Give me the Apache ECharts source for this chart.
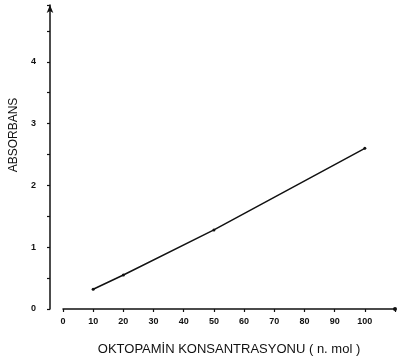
<!DOCTYPE html>
<html>
<head>
<meta charset="utf-8">
<script src="https://cdn.jsdelivr.net/npm/echarts@6/dist/echarts.min.js"></script>
<style>
  html, body { margin: 0; padding: 0; background: #fff; }
  #chart { width: 398px; height: 362px; }
</style>
</head>
<body>
<div id="chart"></div>
<script>
// values
let concentrations = [10, 20, 50, 100]
let absorbance = [0.32, 0.55, 1.28, 2.6]
let xTickLabels = [0, 10, 20, 30, 40, 50, 60, 70, 80, 90, 100]
let yTickLabels = [0, 1, 2, 3, 4]

let font = '"Liberation Sans", Arial, sans-serif'
let ink = '#111'

let chart = echarts.init(document.getElementById('chart'))
chart.setOption({
  animation: false,
  grid: { left: 63, right: 1, top: 5, bottom: 53 },
  xAxis: {
    type: 'value',
    min: 0,
    max: 110,
    interval: 10,
    name: 'OKTOPAMİN KONSANTRASYONU ( n. mol )',
    nameLocation: 'middle',
    nameGap: 34,
    nameTextStyle: { fontFamily: font, fontSize: 13, color: ink },
    axisLine: {
      onZero: false,
      lineStyle: { color: ink, width: 1.5 },
      symbol: ['none', 'circle'],
      symbolSize: [4, 4]
    },
    axisTick: { length: 3, lineStyle: { color: ink, width: 1.2 } },
    axisLabel: {
      margin: 8,
      fontFamily: font,
      fontSize: 9,
      fontWeight: 'bold',
      color: ink,
      formatter: v => xTickLabels.includes(v) ? String(v) : ''
    },
    splitLine: { show: false }
  },
  yAxis: {
    type: 'value',
    min: 0,
    max: 4.92,
    interval: 0.5,
    offset: 13,
    name: 'ABSORBANS',
    nameLocation: 'middle',
    nameGap: 20,
    nameRotate: 90,
    nameTextStyle: { fontFamily: font, fontSize: 12, color: ink, padding: [0, 0, 0, 44] },
    axisLine: {
      show: true,
      onZero: false,
      lineStyle: { color: ink, width: 1.5 },
      symbol: ['none', 'arrow'],
      symbolSize: [5, 8]
    },
    axisTick: { show: true, length: 3, lineStyle: { color: ink, width: 1.2 } },
    axisLabel: {
      margin: 14,
      fontFamily: font,
      fontSize: 9,
      fontWeight: 'bold',
      color: ink,
      formatter: v => yTickLabels.includes(v) ? String(v) : ''
    },
    splitLine: { show: false }
  },
  series: [{
    type: 'line',
    data: concentrations.map((c, i) => [c, absorbance[i]]),
    symbol: 'circle',
    symbolSize: 3,
    itemStyle: { color: ink },
    lineStyle: { color: ink, width: 1.5 }
  }]
})
</script>
</body>
</html>
